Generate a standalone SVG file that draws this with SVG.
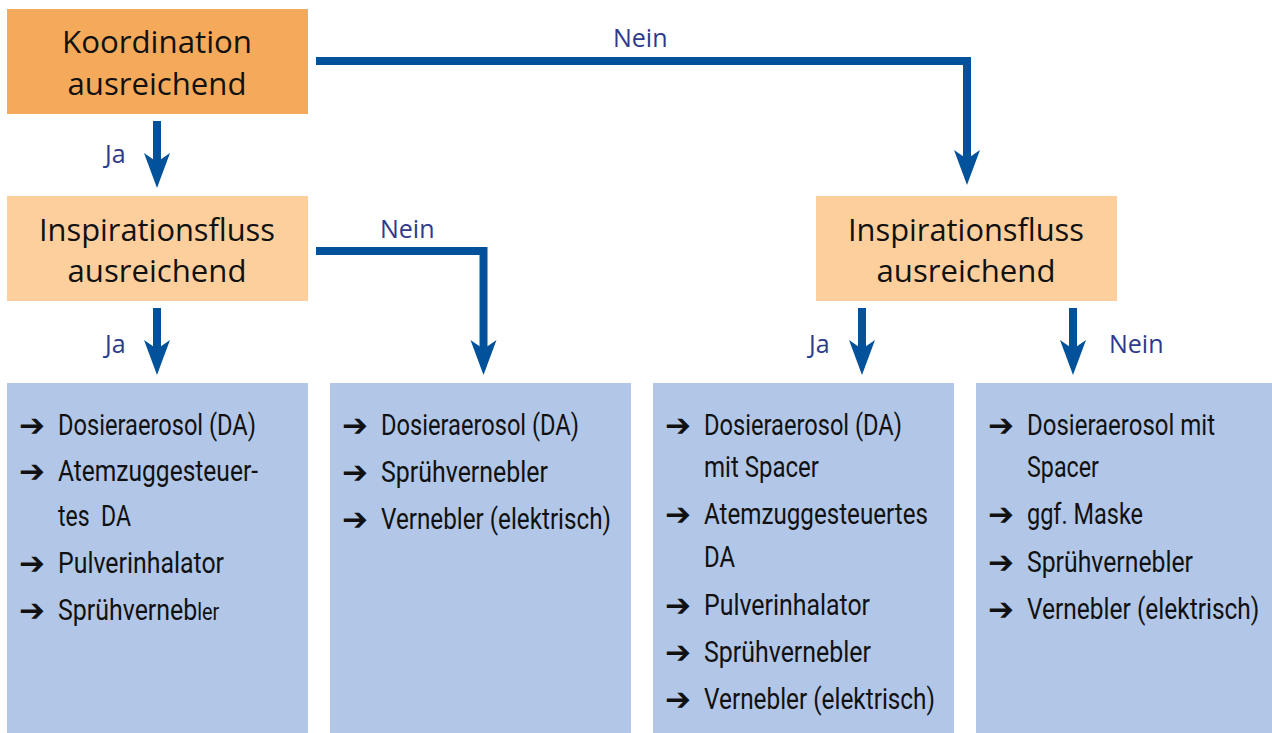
<svg xmlns="http://www.w3.org/2000/svg" width="1272" height="733" viewBox="0 0 1272 733">
<defs>
<style>
.o1{fill:#F5AA5B}
.o2{fill:#FCCF9D}
.bl{fill:#B2C7E8}
.h{font-family:"Open Sans","Noto Sans",sans-serif;font-size:31px;fill:#111;text-anchor:middle}
.lab{font-family:"Open Sans","Noto Sans",sans-serif;font-size:25px;fill:#2E3A8C}
.li{font-family:"Liberation Sans Narrow","Roboto","Liberation Sans",sans-serif;font-size:29px;fill:#111}
.ar{font-family:"DejaVu Sans",sans-serif;font-size:31px;font-weight:bold;fill:#111}
.c{fill:none;stroke:#01529B;stroke-width:8;stroke-linejoin:miter}
</style>
<marker id="ah" markerUnits="userSpaceOnUse" markerWidth="36" markerHeight="28" viewBox="0 -14 36 28" refX="15" refY="0" orient="auto">
<path d="M0,-13 L35,0 L0,13 L9,0 Z" fill="#01529B"/>
</marker>
</defs>
<rect width="1272" height="733" fill="#fff"/>

<g id="connectors">
<path class="c" d="M316,61 H967 V165" marker-end="url(#ah)"/>
<path class="c" d="M157,121 V168" marker-end="url(#ah)"/>
<path class="c" d="M316,251 H483.5 V355" marker-end="url(#ah)"/>
<path class="c" d="M157,308 V355" marker-end="url(#ah)"/>
<path class="c" d="M862,308 V355" marker-end="url(#ah)"/>
<path class="c" d="M1073,308 V355" marker-end="url(#ah)"/>
<text class="lab" x="613" y="47">Nein</text>
<text class="lab" x="105" y="163">Ja</text>
<text class="lab" x="380" y="238">Nein</text>
<text class="lab" x="105" y="353">Ja</text>
<text class="lab" x="809" y="353">Ja</text>
<text class="lab" x="1109" y="353">Nein</text>
</g>

<g id="koordination">
<rect class="o1" x="7" y="9" width="301" height="105"/>
<text class="h" x="157" y="53" textLength="190" lengthAdjust="spacingAndGlyphs">Koordination</text>
<text class="h" x="157" y="95" textLength="179" lengthAdjust="spacingAndGlyphs">ausreichend</text>
</g>

<g id="inspiration-links">
<rect class="o2" x="7" y="196" width="301" height="105"/>
<text class="h" x="157" y="241" textLength="236" lengthAdjust="spacingAndGlyphs">Inspirationsfluss</text>
<text class="h" x="157" y="282" textLength="179" lengthAdjust="spacingAndGlyphs">ausreichend</text>
</g>

<g id="inspiration-rechts">
<rect class="o2" x="816" y="196" width="301" height="105"/>
<text class="h" x="966" y="241" textLength="236" lengthAdjust="spacingAndGlyphs">Inspirationsfluss</text>
<text class="h" x="966" y="282" textLength="179" lengthAdjust="spacingAndGlyphs">ausreichend</text>
</g>

<g id="liste-1">
<rect class="bl" x="7" y="383" width="301" height="350"/>
<text class="ar" x="19" y="436">➔</text>
<text class="li" x="58" y="435" textLength="198" lengthAdjust="spacingAndGlyphs">Dosieraerosol (DA)</text>
<text class="ar" x="19" y="482">➔</text>
<text class="li" x="58" y="481" textLength="200" lengthAdjust="spacingAndGlyphs">Atemzuggesteuer-</text>
<text class="li" x="58" y="526" textLength="73" lengthAdjust="spacingAndGlyphs" xml:space="preserve">tes  DA</text>
<text class="ar" x="19" y="574">➔</text>
<text class="li" x="58" y="573" textLength="166" lengthAdjust="spacingAndGlyphs">Pulverinhalator</text>
<text class="ar" x="19" y="621">➔</text>
<text class="li" transform="translate(58 620) scale(0.86 1)">Sprühverneb<tspan font-size="23">ler</tspan></text>
</g>

<g id="liste-2">
<rect class="bl" x="330" y="383" width="301" height="350"/>
<text class="ar" x="342" y="436">➔</text>
<text class="li" x="381" y="435" textLength="198" lengthAdjust="spacingAndGlyphs">Dosieraerosol (DA)</text>
<text class="ar" x="342" y="483">➔</text>
<text class="li" x="381" y="482" textLength="167" lengthAdjust="spacingAndGlyphs">Sprühvernebler</text>
<text class="ar" x="342" y="530">➔</text>
<text class="li" x="381" y="529" textLength="230" lengthAdjust="spacingAndGlyphs">Vernebler (elektrisch)</text>
</g>

<g id="liste-3">
<rect class="bl" x="653" y="383" width="301" height="350"/>
<text class="ar" x="665" y="436">➔</text>
<text class="li" x="704" y="435" textLength="198" lengthAdjust="spacingAndGlyphs">Dosieraerosol (DA)</text>
<text class="li" x="704" y="477" textLength="115" lengthAdjust="spacingAndGlyphs">mit Spacer</text>
<text class="ar" x="665" y="525">➔</text>
<text class="li" x="704" y="524" textLength="224" lengthAdjust="spacingAndGlyphs">Atemzuggesteuertes</text>
<text class="li" x="704" y="567" textLength="31" lengthAdjust="spacingAndGlyphs">DA</text>
<text class="ar" x="665" y="616">➔</text>
<text class="li" x="704" y="615" textLength="166" lengthAdjust="spacingAndGlyphs">Pulverinhalator</text>
<text class="ar" x="665" y="663">➔</text>
<text class="li" x="704" y="662" textLength="167" lengthAdjust="spacingAndGlyphs">Sprühvernebler</text>
<text class="ar" x="665" y="710">➔</text>
<text class="li" x="704" y="709" textLength="231" lengthAdjust="spacingAndGlyphs">Vernebler (elektrisch)</text>
</g>

<g id="liste-4">
<rect class="bl" x="976" y="383" width="296" height="350"/>
<text class="ar" x="988" y="436">➔</text>
<text class="li" x="1027" y="435" textLength="188" lengthAdjust="spacingAndGlyphs">Dosieraerosol mit</text>
<text class="li" x="1027" y="477" textLength="72" lengthAdjust="spacingAndGlyphs">Spacer</text>
<text class="ar" x="988" y="525">➔</text>
<text class="li" x="1027" y="524" textLength="116" lengthAdjust="spacingAndGlyphs">ggf. Maske</text>
<text class="ar" x="988" y="573">➔</text>
<text class="li" x="1027" y="572" textLength="166" lengthAdjust="spacingAndGlyphs">Sprühvernebler</text>
<text class="ar" x="988" y="620">➔</text>
<text class="li" transform="translate(1027 619) scale(0.845 1)">Vernebler (elektrisch)</text>
</g>
</svg>
